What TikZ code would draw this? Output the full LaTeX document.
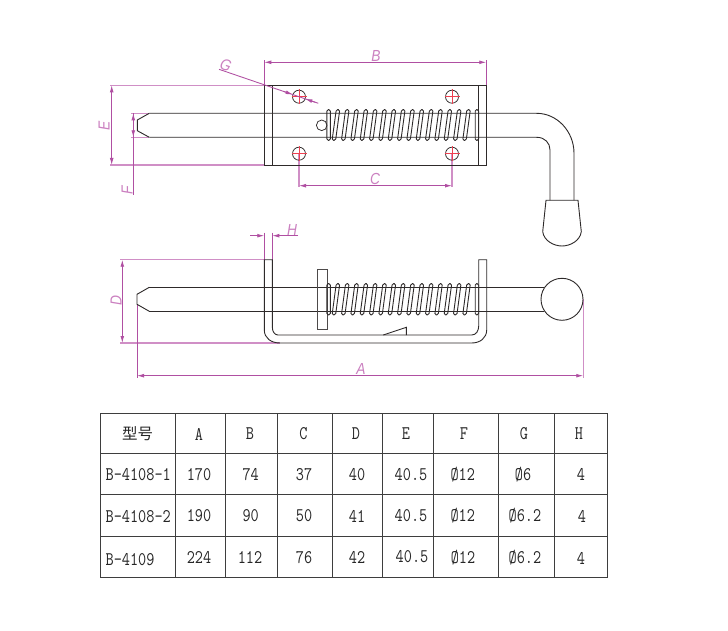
\documentclass[tikz,border=0pt]{standalone}
\usepackage{fontspec}
\usepackage{graphicx}
\usetikzlibrary{arrows.meta}
\setsansfont{Liberation Sans}
\newfontfamily\cjkfont{Noto Sans CJK SC}
\definecolor{dimc}{HTML}{B04FA2}
\definecolor{extc}{HTML}{D08FC6}
\definecolor{labc}{HTML}{CB80C0}
\definecolor{ink}{HTML}{2E2A2A}
\definecolor{gridc}{HTML}{3E3E3E}
\definecolor{crossc}{HTML}{EE4050}
\newcommand{\tbltext}[1]{\scalebox{1}[1.22]{\ttfamily\fontsize{15.8}{16}\selectfont #1}}
\newcommand{\dimtext}[1]{\scalebox{0.86}[1]{#1}}
\newcommand{\coilloop}[3]{%
  \draw[part,rounded corners=1.6pt] (#1-3.8,#3) -- (#1+0.4,#2) -- (#1+3.9,#2) -- (#1-0.3,#3) -- cycle;}
\newcommand{\coilset}[2]{%
  \draw[part,rounded corners=1.6pt] (326.8,#2) -- (326.8,#1) -- (330.3,#1) -- (330.3,#2) -- cycle;
  \foreach \k in {-1,...,13}{\pgfmathsetmacro{\cx}{345.2+9.33*\k}\coilloop{\cx}{#1}{#2}}
  \draw[part,rounded corners=1.6pt] (475.2,#2) -- (475.2,#1) -- (478.7,#1) -- (478.7,#2) -- cycle;}
\newcommand{\holemark}[3]{%
  \node[holec] (#3) at (#1,#2) {};
  \draw[crossline] (#1-7.5,#2) -- (#1+7.5,#2) (#1,#2-7.5) -- (#1,#2+7.5);}
\tikzset{
  x=1pt,y=-1pt,
  part/.style={draw=ink,line width=0.9pt},
  thinpart/.style={draw=ink!85,line width=0.8pt},
  crossline/.style={draw=crossc,line width=0.85pt},
  holec/.style={circle,draw=ink,line width=0.75pt,minimum size=13pt,inner sep=0pt},
  dimline/.style={draw=dimc,line width=0.85pt},
  extline/.style={draw=extc,line width=1.15pt},
  tipboth/.style={dimline,{Latex[length=7pt,width=3.8pt]}-{Latex[length=7pt,width=3.8pt]}},
  tipend/.style={dimline,-{Latex[length=7pt,width=3.8pt]}},
  dimlabel/.style={text=labc,font=\sffamily\itshape\fontsize{16}{16}\selectfont,inner sep=0pt},
  grid/.style={draw=gridc,line width=0.95pt},
  cell/.style={text=black!85,inner sep=0pt},
  lcell/.style={cell,anchor=west}
}
\begin{document}
\begin{tikzpicture}
\useasboundingbox (0,0) rectangle (728,631);
\fill[white] (0,0) rectangle (728,631);

% ===== extension lines, top view
\draw[extline] (110,85.3) -- (264.3,85.3);
\draw[extline] (110,165) -- (264.3,165);
\draw[extline] (131,113.3) -- (149.3,113.3);
\draw[extline] (131,137.3) -- (149.3,137.3);
\draw[extline] (299,153.7) -- (299,187);
\draw[extline] (452,153.7) -- (452,187);
\draw[dimline] (264.3,60.5) -- (264.3,85.3);
\draw[dimline] (486.3,60.5) -- (486.3,85.3);

% ===== top view: plate
\draw[part] (264.3,85.3) rectangle (486.3,165);
\draw[part] (272.3,85.3) -- (272.3,165);
\draw[part] (478.3,85.3) -- (478.3,165);

% bolt
\draw[part] (149.3,113.3) -- (137.3,120) -- (137.3,130.7) -- (149.3,137.3);
\draw[part] (149.3,113.3) -- (536.7,113.3) .. controls (557,113.3) and (574,131.3) .. (574,153.3) -- (574,200.3);
\draw[part] (149.3,137.3) -- (536.7,137.3) .. controls (545,137.3) and (550,143) .. (550,150) -- (550,200.3);
% handle grip
\draw[part] (546,200.3) -- (578,200.3) -- (581.3,231.7) .. controls (580,241) and (570,246) .. (562,246) .. controls (554,246) and (544,241) .. (542.7,231.7) -- cycle;

\node[holec,minimum size=10.6pt] (pin) at (321.7,125.3) {};
\coilset{109.5}{140.5}
\holemark{299}{96.7}{holeA}
\holemark{452}{96.7}{holeB}
\holemark{299}{153.7}{holeC}
\holemark{452}{153.7}{holeD}

% ===== dimensions, top view
\draw[tipboth] (264.3,62.3) -- (486.3,62.3);
\draw[tipboth] (111.7,85.3) -- (111.7,165);
\draw[dimline] (133.3,113.3) -- (133.3,195);
\draw[tipboth] (133.3,113.3) -- (133.3,137.3);
\draw[tipboth] (299,185.7) -- (452,185.7);
\draw[dimline] (219,69.3) -- (318.3,103.3);
\draw[tipend] (283,91.2) -- (292.7,94.5);
\draw[tipend] (315,102.2) -- (305.3,98.9);
\node[dimlabel] (labB) at (376,56) {\dimtext{B}};
\node[dimlabel] (labC) at (375,179) {\dimtext{C}};
\node[dimlabel,rotate=90] (labE) at (104,126) {\dimtext{E}};
\node[dimlabel,rotate=90] (labF) at (127,190) {\dimtext{F}};
\node[dimlabel,rotate=-20] (labG) at (225.7,65.3) {\dimtext{G}};

% ===== extension lines, side view
\draw[extline] (120,259.7) -- (264.3,259.7);
\draw[extline] (120,343) -- (280,343);
\draw[dimline] (137,304.3) -- (137,378);
\draw[extline] (583.3,299.3) -- (583.3,378);
\draw[dimline] (264.3,232.5) -- (264.3,259.7);
\draw[dimline] (272.3,232.5) -- (272.3,259.7);

% ===== side view: bracket
\draw[part] (264.3,259.7) -- (264.3,330) .. controls (264.3,338) and (271,343) .. (280,343)
  -- (471.7,343) .. controls (480,343) and (486.7,338) .. (486.7,330) -- (486.7,259.7)
  -- (478.7,259.7) -- (478.7,326) .. controls (478.7,331) and (476,335) .. (471.7,335)
  -- (278,335) .. controls (275,335) and (272.3,332) .. (272.3,327) -- (272.3,259.7) -- cycle;
\draw[part] (383.3,335) -- (406.3,327.3) -- (406.3,335);
% bolt
\draw[part] (149.3,287.3) -- (137,294.3) -- (137,304.3) -- (149.3,311.3);
\draw[part] (149.3,287.3) -- (544,287.3);
\draw[part] (149.3,311.3) -- (544,311.3);
% washer
\draw[thinpart] (317,269.3) rectangle (327.3,329.3);
\coilset{283.5}{315}
% ball
\node[circle,draw=ink,line width=0.9pt,fill=white,minimum size=42pt,inner sep=0pt] (ball) at (562,299.3) {};

% ===== dimensions, side view
\draw[tipboth] (122.3,259.7) -- (122.3,343);
\draw[tipboth] (137,375.7) -- (583.3,375.7);
\draw[tipend] (250,235.7) -- (264.3,235.7);
\draw[tipend] (298,235.7) -- (272.3,235.7);
\node[dimlabel,rotate=90] (labD) at (116,301) {\dimtext{D}};
\node[dimlabel] (labH) at (292,229.5) {\dimtext{H}};
\node[dimlabel] (labA) at (361,369) {\dimtext{A}};

% ===== table
\draw[grid] (100,413.7) rectangle (607.3,577.3);
\foreach \yy in {453.3,494.3,536}{\draw[grid] (100,\yy) -- (607.3,\yy);}
\foreach \xx in {175.3,225.3,277.7,332.7,382,433.7,498.3,554.3}{\draw[grid] (\xx,413.7) -- (\xx,577.3);}

\node[cell,font=\cjkfont\fontsize{15.5}{16}\selectfont] (h0) at (137.7,434) {型号};
\node[cell] (h1) at (199,434) {\tbltext{A}};
\node[cell] (h2) at (250,434) {\tbltext{B}};
\node[cell] (h3) at (303.5,434) {\tbltext{C}};
\node[cell] (h4) at (356,434) {\tbltext{D}};
\node[cell] (h5) at (406,434) {\tbltext{E}};
\node[cell] (h6) at (464,434) {\tbltext{F}};
\node[cell] (h7) at (524,434) {\tbltext{G}};
\node[cell] (h8) at (579,434) {\tbltext{H}};

\node[lcell] (a0) at (105.5,475) {\tbltext{B-4108-1}};
\node[cell] (a1) at (199,474.7) {\tbltext{170}};
\node[cell] (a2) at (250.7,474.7) {\tbltext{74}};
\node[cell] (a3) at (304,474.7) {\tbltext{37}};
\node[cell] (a4) at (357,474.7) {\tbltext{40}};
\node[cell] (a5) at (411,474.7) {\tbltext{40.5}};
\node[cell] (a6) at (462.7,474.7) {\tbltext{Ø12}};
\node[cell] (a7) at (523,474.7) {\tbltext{Ø6}};
\node[cell] (a8) at (581,474.7) {\tbltext{4}};

\node[lcell] (b0) at (105.5,517) {\tbltext{B-4108-2}};
\node[cell] (b1) at (199,516) {\tbltext{190}};
\node[cell] (b2) at (250.7,516) {\tbltext{90}};
\node[cell] (b3) at (304,516) {\tbltext{50}};
\node[cell] (b4) at (357,516) {\tbltext{41}};
\node[cell] (b5) at (411,516) {\tbltext{40.5}};
\node[cell] (b6) at (462.7,516) {\tbltext{Ø12}};
\node[cell] (b7) at (525,516) {\tbltext{Ø6.2}};
\node[cell] (b8) at (582,516) {\tbltext{4}};

\node[lcell] (c0) at (105.5,559.5) {\tbltext{B-4109}};
\node[cell] (c1) at (199,557.5) {\tbltext{224}};
\node[cell] (c2) at (250,557.5) {\tbltext{112}};
\node[cell] (c3) at (304,557.5) {\tbltext{76}};
\node[cell] (c4) at (357,557.5) {\tbltext{42}};
\node[cell] (c5) at (412,557) {\tbltext{40.5}};
\node[cell] (c6) at (463,558) {\tbltext{Ø12}};
\node[cell] (c7) at (525,558) {\tbltext{Ø6.2}};
\node[cell] (c8) at (581,558) {\tbltext{4}};
\end{tikzpicture}
\end{document}
